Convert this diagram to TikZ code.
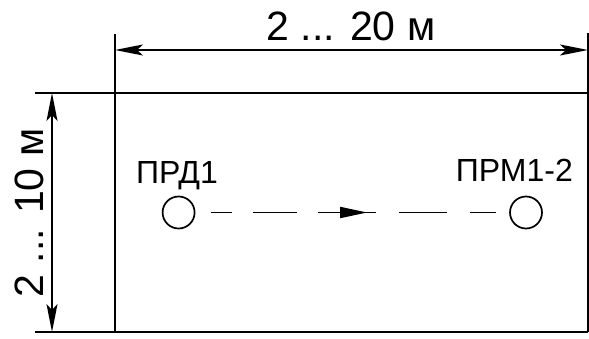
\documentclass[tikz,border=0pt]{standalone}
\usepackage{fontspec}
\setmainfont{Liberation Sans}
\usetikzlibrary{arrows.meta,decorations.markings}
\begin{document}
\begin{tikzpicture}[x=1pt,y=1pt,
  frameline/.style={line width=2pt},
  dimline/.style={line width=1.7pt,{Stealth[length=28pt,width=11pt,inset=6pt]}-{Stealth[length=28pt,width=11pt,inset=6pt]}},
  bigtext/.style={font=\fontsize{41}{48}\selectfont,inner sep=0pt},
  lbltext/.style={font=\fontsize{32}{36}\selectfont,inner sep=0pt},
  station/.style={circle,draw,line width=1.7pt,minimum size=32pt,inner sep=0pt},
  link/.style={line width=1.8pt,
    dash pattern=on 0pt off 15.5pt on 21pt off 21pt on 44.3pt off 21pt on 58pt off 23pt on 48pt off 23pt on 26pt off 20pt,
    postaction={decorate,decoration={markings,mark=at position 171.7pt with {\arrow{Triangle[length=27pt,width=11pt]}}}}}
]
\useasboundingbox (0,0) rectangle (589,338);
% frame (y = 338 - ypx)
\coordinate (tl) at (115,245);
\coordinate (tr) at (588,245);
\coordinate (bl) at (115,6);
\coordinate (br) at (588,6);
\coordinate (tlext) at (35,245);
\coordinate (blext) at (35,6);
\coordinate (tlup) at (115,304);
\coordinate (trup) at (588,305);
\draw[frameline] (tlext) -- (tr);
\draw[frameline] (blext) -- (br);
\draw[frameline] (tlup) -- (bl);
\draw[frameline] (trup) -- (br);
% dimensions
\coordinate (dh1) at (115,288);
\coordinate (dh2) at (588,288);
\draw[dimline] (dh1) -- (dh2);
\node[bigtext,anchor=base] (hlab) at (351,297) {2 ... 20 м};
\coordinate (dv1) at (52,245);
\coordinate (dv2) at (52,6);
\draw[dimline] (dv1) -- (dv2);
\node[bigtext,anchor=base,rotate=90] (vlab) at (43,125) {2 ... 10 м};
% stations
\node[station] (prd) at (178.6,125.5) {};
\node[station] (prm) at (526,125.5) {};
\node[lbltext,anchor=base west] (prdlab) at (136,155) {ПРД1};
\node[lbltext,anchor=base east] (prmlab) at (573,156.3) {ПРМ1-2};
\draw[link] (prd) -- (prm);
\end{tikzpicture}
\end{document}
